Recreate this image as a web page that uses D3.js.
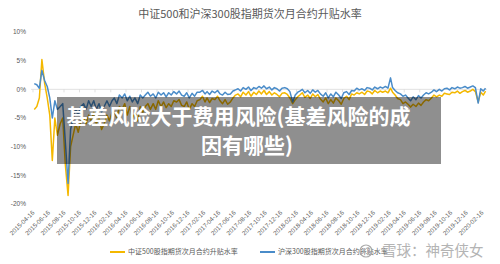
<!DOCTYPE html>
<html><head><meta charset="utf-8">
<script src="https://cdn.jsdelivr.net/npm/d3@7"></script>
<style>body{margin:0;background:#fff}svg{display:block;font-family:"Noto Sans CJK SC","Noto Sans",sans-serif}</style>
</head><body><svg id="c" width="500" height="264"></svg>
<script>
const title = "中证500和沪深300股指期货次月合约升贴水率";
const seriesNames = ["中证500股指期货次月合约升贴水率", "沪深300股指期货次月合约升贴水率"];
const seriesColors = ["#f4b800", "#4a8cc9"];
const yTicks = [0.10, 0.05, 0, -0.05, -0.10, -0.15, -0.20];
const xTickLabels = ["2015-04-16","2015-06-16","2015-08-16","2015-10-16","2015-12-16","2016-02-16","2016-04-16","2016-06-16","2016-08-16","2016-10-16","2016-12-16","2017-02-16","2017-04-16","2017-06-16","2017-08-16","2017-10-16","2017-12-16","2018-02-16","2018-04-16","2018-06-16","2018-08-16","2018-10-16","2018-12-16","2019-02-16","2019-04-16","2019-06-16","2019-08-16","2019-10-16","2019-12-16","2020-02-16"];
const overlayLines = ["基差风险大于费用风险(基差风险的成", "因有哪些)"];
const watermark = "雪球：神奇侠女";

// sample days within each month (first month only day 21, last point 2020-03-01)
const sampleDays = [1, 11, 21];
// values in percent
const zz500 = [
 -3.5,
 -3, -1.5, 5.2,   1, -1.5, -4.5,   -12.4, -5, -8,   -6, -5, -13,   -18.5, -10, -8,
 -6, -7.5, -5.5,   -5, -6, -4.5,   -5.5, -4, -6,
 -5, -7, -6,   -4.5, -5.5, -4,   -4, -5, -3,   -3.5, -2.5, -4.5,   -3, -5, -4,   -5.5, -3, -4,
 -3, -2.5, -3.5,   -2.5, -3.5, -2,   -3, -2.2, -3.2,   -2.5, -3, -2,   -2.2, -1.8, -2.8,   -3, -2.2, -3.5,
 -2.5, -3, -2,   -1.8, -1.2, -2.2,   -1.5, -2.3, -1.6,   -1.8, -1.2, -2.0,   -2.5, -1.8, -2.6,   -2.2, -1.5, -1,
 -0.8, -1.3, -0.5,   -1, -0.4, -1.2,   -0.5, -0.9, -0.3,   -0.8, -0.2, -0.9,   -0.4, -1, -0.6,   -0.9, -1.3, -0.7,
 -0.6, -0.9, -1.5,   -2.5, -1.8, -1.3,   -1, -0.6, -1.4,   -1, -1.6, -0.8,   -1.3, -0.9, -1.7,   -2.2, -1.5, -2.5,
 -1.8, -2.4, -1.5,   -2, -2.6, -1.6,   -1.2, -1.8, -0.8,   -1, -0.6, -0.8,   -0.5, -0.9, -0.3,   -0.4, -0.8, -0.2,
 -0.6, -0.3, -0.5,   -0.3, -0.6, 0.2,   -0.5, -1, -1.6,   -1.8, -2.5, -2.2,   -2.6, -3.1, -2.6,   -3, -2.4, -2.8,
 -2.2, -1.8, -2,   -1.5, -1, -1.3,   -1, -1.2, -0.7,   -0.8, -0.9, -0.5,   -0.6, -0.3, -0.7,   -0.4, -0.2, -0.5,
 -0.3, 0, -0.4,   -2.2, -0.5, -1,
 -0.3
];
const hs300 = [
 1.0,
 0.8, 0.2, 3.3,   1.5, 0.5, -1.5,   -5, -2, -3.5,   -3, -2.5, -9,   -16.4, -7, -5,
 -3.5, -4.5, -3,   -2.5, -3.5, -2,   -3, -2, -3.5,
 -2.5, -4, -3,   -2, -3, -2,   -1.5, -2.5, -1,   -1.5, -0.8, -2,   -1.2, -2.2, -1.5,   -2.5, -1, -1.5,
 -1, -0.5, -1.2,   -0.8, -1.5, -0.5,   -1, -0.6, -1.3,   -0.6, -1, -0.4,   -0.8, -0.3, -1,   -1.2, -0.6, -1.5,
 -0.7, -1.2, -0.5,   -0.5, -0.2, -0.8,   -0.4, -0.9, -0.3,   -0.6, -0.2, -0.8,   -1, -0.5, -0.9,   -0.8, -0.3, -0.1,
 0.1, -0.3, 0.3,   0, 0.4, -0.2,   0.3, 0.1, 0.5,   0.2, 0.6, 0.1,   0.4, -0.1, 0.3,   0.1, -0.3, 0.2,
 0.3, 0.1, -0.4,   -2.2, -1, -0.5,   -0.3, 0, -0.6,   -0.2, -0.7, -0.1,   -0.5, -0.2, -0.8,   -1.2, -0.6, -1.5,
 -0.8, -1.3, -0.5,   -1, -1.6, -0.6,   -0.4, -0.9, -0.2,   -0.3, 0.2, -0.1,   0.1, -0.2, 0.3,   0.2, -0.1, 0.4,
 0.1, 0.4, 0.2,   0.5, 0.2, 2.0,   0.3, -0.2, -0.6,   -0.8, -1.2, -1,   -1.5, -2, -1.3,   -1.8, -1.1, -1.5,
 -1, -0.6, -0.8,   -0.5, -0.1, -0.4,   0, -0.3, 0.1,   0.2, -0.1, 0.3,   0.1, 0.4, 0.2,   0.3, 0.5, 0.2,
 0.4, 0.6, 0.3,   -2.4, 0.1, -0.3,
 0.2
];

const dates = [new Date(2015, 3, 21)];
for (let m = 1; m <= 58; m++) for (const d of sampleDays) dates.push(new Date(2015, 3 + m, d));
dates.push(new Date(2020, 2, 1));

const svg = d3.select("#c");
const parse = d3.timeParse("%Y-%m-%d");
const x = d3.scaleTime().domain([parse("2015-04-16"), parse("2020-02-16")]).range([33, 482]);
const y = d3.scaleLinear().domain([-0.2, 0.1]).range([204, 32]);

svg.append("text").attr("x", 250).attr("y", 18).attr("text-anchor", "middle")
  .attr("font-size", 11).attr("fill", "#595959").text(title);

// y labels
svg.append("g").selectAll("text").data(yTicks).join("text")
  .attr("x", 26).attr("y", d => y(d)).attr("dy", "0.35em").attr("text-anchor", "end")
  .attr("font-size", 6.5).attr("fill", "#595959").attr("font-family", "Liberation Sans, sans-serif")
  .text(d => d3.format(".0%")(d).replace("−", "-"));

// zero axis line with ticks
const y0 = y(0);
svg.append("line").attr("x1", 31).attr("x2", 487).attr("y1", y0).attr("y2", y0)
  .attr("stroke", "#d9d9d9").attr("stroke-width", 0.8);
const tickDates = xTickLabels.map(parse);
svg.append("g").selectAll("line").data(tickDates).join("line")
  .attr("x1", d => x(d)).attr("x2", d => x(d)).attr("y1", y0).attr("y2", y0 + 3)
  .attr("stroke", "#d9d9d9").attr("stroke-width", 0.8);

// x labels
svg.append("g").selectAll("text").data(xTickLabels).join("text")
  .attr("transform", d => `translate(${x(parse(d)) + 2},${213}) rotate(-45)`)
  .attr("text-anchor", "end").attr("font-size", 6.3).attr("fill", "#595959")
  .attr("font-family", "Liberation Sans, sans-serif").text(d => d);

// lines
const series = [zz500, hs300];
series.forEach((vals, i) => {
  const line = d3.line().x((d, j) => x(dates[j])).y(d => y(d / 100));
  svg.append("path").datum(vals).attr("d", line).attr("fill", "none")
    .attr("stroke", seriesColors[i]).attr("stroke-width", 1.5).attr("stroke-linejoin", "round");
});

// legend
const legX = [110, 260];
seriesNames.forEach((n, i) => {
  svg.append("line").attr("x1", legX[i]).attr("x2", legX[i] + 15).attr("y1", 252).attr("y2", 252)
    .attr("stroke", seriesColors[i]).attr("stroke-width", 2);
  svg.append("text").attr("x", legX[i] + 18).attr("y", 252).attr("dy", "0.35em")
    .attr("font-size", 7).attr("fill", "#595959").text(n);
});

// watermark logo (drawn shape) and text
svg.append("circle").attr("cx", 366).attr("cy", 251).attr("r", 6).attr("fill", "none")
  .attr("stroke", "#aaa").attr("stroke-width", 1.2);
svg.append("path").attr("d", "M362.5,254 Q366,246 369.5,248 M363,249 Q366,256 369,253")
  .attr("fill", "none").attr("stroke", "#aaa").attr("stroke-width", 1);
svg.append("text").attr("x", 382).attr("y", 251).attr("dy", "0.36em")
  .attr("font-size", 14.5).attr("fill", "#b4b4b4").text(watermark);

// overlay
svg.append("rect").attr("x", 57).attr("y", 97).attr("width", 384).attr("height", 67)
  .attr("fill", "#000").attr("opacity", 0.44);
svg.append("text").attr("x", 238.5).attr("y", 124).attr("text-anchor", "middle")
  .attr("font-size", 21).attr("font-weight", "bold").attr("fill", "#fff").text(overlayLines[0]);
svg.append("text").attr("x", 247).attr("y", 153).attr("text-anchor", "middle")
  .attr("font-size", 21).attr("font-weight", "bold").attr("fill", "#fff").text(overlayLines[1]);
</script></body></html>
